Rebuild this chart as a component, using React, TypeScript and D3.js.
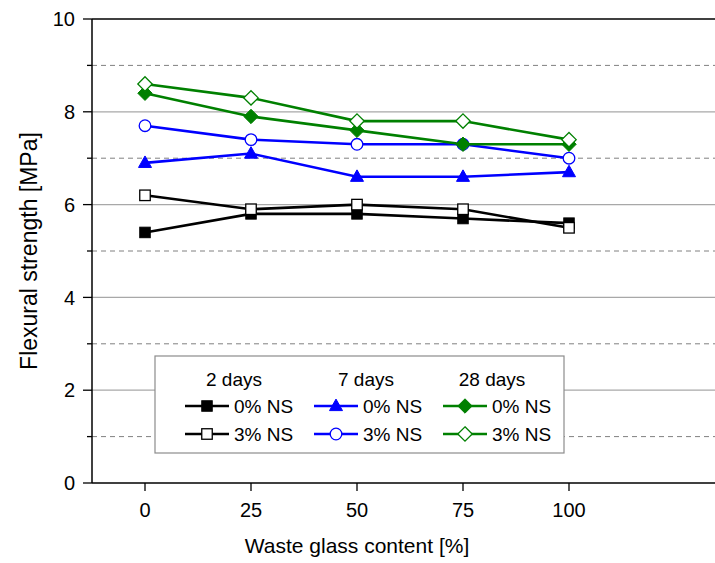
import React from "react";
import * as d3 from "d3";

// Waste glass content (%) on the x axis
const glassContent = [0, 25, 50, 75, 100];

// Flexural strength (MPa) per curing age and nano-silica dosage
const days2_ns0 = [5.4, 5.8, 5.8, 5.7, 5.6];
const days2_ns3 = [6.2, 5.9, 6.0, 5.9, 5.5];
const days7_ns0 = [6.9, 7.1, 6.6, 6.6, 6.7];
const days7_ns3 = [7.7, 7.4, 7.3, 7.3, 7.0];
const days28_ns0 = [8.4, 7.9, 7.6, 7.3, 7.3];
const days28_ns3 = [8.6, 8.3, 7.8, 7.8, 7.4];

const yMajorTicks = [0, 2, 4, 6, 8, 10];
const yMinorTicks = [1, 3, 5, 7, 9];
const xTicks = [0, 25, 50, 75, 100];

const ageGroups = ["2 days", "7 days", "28 days"];
const dosageLabels = ["0% NS", "3% NS"];

type Marker = "square" | "triangle" | "circle" | "diamond";

const series = [
  { values: days2_ns0, color: "#000000", marker: "square" as Marker, filled: true, group: 0, row: 0 },
  { values: days2_ns3, color: "#000000", marker: "square" as Marker, filled: false, group: 0, row: 1 },
  { values: days7_ns0, color: "#0000ff", marker: "triangle" as Marker, filled: true, group: 1, row: 0 },
  { values: days7_ns3, color: "#0000ff", marker: "circle" as Marker, filled: false, group: 1, row: 1 },
  { values: days28_ns0, color: "#008000", marker: "diamond" as Marker, filled: true, group: 2, row: 0 },
  { values: days28_ns3, color: "#008000", marker: "diamond" as Marker, filled: false, group: 2, row: 1 },
];

const W = 715;
const H = 563;
const left = 92;
const top = 19;
const bottom = 483;
const FONT = "'Liberation Sans', Arial, sans-serif";

const x = d3.scaleLinear().domain([-12.5, 137.5]).range([left, left + 150 * 4.24]);
const y = d3.scaleLinear().domain([0, 10]).range([bottom, top]);

function MarkerShape({ kind, cx, cy, color, filled }: { kind: Marker; cx: number; cy: number; color: string; filled: boolean }) {
  const fill = filled ? color : "#ffffff";
  const sw = filled ? 1 : 1.3;
  if (kind === "square") {
    const s = 10.5;
    return <rect x={cx - s / 2} y={cy - s / 2} width={s} height={s} fill={fill} stroke={color} strokeWidth={sw} />;
  }
  if (kind === "circle") {
    return <circle cx={cx} cy={cy} r={5.8} fill={fill} stroke={color} strokeWidth={sw} />;
  }
  if (kind === "triangle") {
    const h = 11.5;
    const w = 13;
    const pts = `${cx},${cy - h * 0.6} ${cx + w / 2},${cy + h * 0.4} ${cx - w / 2},${cy + h * 0.4}`;
    return <polygon points={pts} fill={fill} stroke={color} strokeWidth={sw} />;
  }
  const r = 7.2;
  const pts = `${cx},${cy - r} ${cx + r},${cy} ${cx},${cy + r} ${cx - r},${cy}`;
  return <polygon points={pts} fill={fill} stroke={color} strokeWidth={sw} />;
}

export default function App() {
  const line = d3
    .line<number>()
    .x((_, i) => x(glassContent[i]))
    .y((d) => y(d));

  // Legend layout
  const legBox = { x: 155, y: 356, w: 409, h: 97 };
  const groupLineX = [185, 314, 443];
  const headerX = [234, 366, 492];
  const rowY = [406, 434];

  return (
    <svg
      width={W}
      height={H}
      style={{ position: "absolute", left: 0, top: 0, background: "#ffffff" }}
      fontFamily={FONT}
    >
      {/* grid lines */}
      {[2, 4, 6, 8].map((v) => (
        <line key={"g" + v} x1={left} x2={W} y1={y(v)} y2={y(v)} stroke="#a8a8a8" strokeWidth={1.3} />
      ))}
      {yMinorTicks.map((v) => (
        <line key={"d" + v} x1={left} x2={W} y1={y(v)} y2={y(v)} stroke="#808080" strokeWidth={1} strokeDasharray="5,4" />
      ))}

      {/* frame */}
      <line x1={left} x2={W} y1={top} y2={top} stroke="#000" strokeWidth={1.5} />
      <line x1={left} x2={W} y1={bottom} y2={bottom} stroke="#000" strokeWidth={1.5} />
      <line x1={left} x2={left} y1={top} y2={bottom} stroke="#000" strokeWidth={1.5} />

      {/* y ticks */}
      {yMajorTicks.map((v) => (
        <g key={"yt" + v}>
          <line x1={left - 9} x2={left} y1={y(v)} y2={y(v)} stroke="#000" strokeWidth={1.3} />
          <text x={left - 17} y={y(v)} dy="0.36em" textAnchor="end" fontSize={20} fill="#000">
            {v}
          </text>
        </g>
      ))}
      {yMinorTicks.map((v) => (
        <line key={"ym" + v} x1={left - 5} x2={left} y1={y(v)} y2={y(v)} stroke="#000" strokeWidth={1.3} />
      ))}

      {/* x ticks */}
      {xTicks.map((v) => (
        <g key={"xt" + v}>
          <line x1={x(v)} x2={x(v)} y1={bottom} y2={bottom + 8} stroke="#000" strokeWidth={1.3} />
          <text x={x(v)} y={517} textAnchor="middle" fontSize={20} fill="#000">
            {v}
          </text>
        </g>
      ))}

      {/* axis titles */}
      <text x={x(50)} y={553} textAnchor="middle" fontSize={21} fill="#000">
        Waste glass content [%]
      </text>
      <text
        transform={`translate(37, ${(top + bottom) / 2}) rotate(-90)`}
        textAnchor="middle"
        fontSize={23}
        fill="#000"
      >
        Flexural strength [MPa]
      </text>

      {/* series */}
      {series.map((s, si) => (
        <path key={"l" + si} d={line(s.values) || ""} fill="none" stroke={s.color} strokeWidth={2.6} />
      ))}
      {series.map((s, si) =>
        s.values.map((v, i) => (
          <MarkerShape key={`m${si}-${i}`} kind={s.marker} cx={x(glassContent[i])} cy={y(v)} color={s.color} filled={s.filled} />
        ))
      )}

      {/* legend */}
      <rect x={legBox.x} y={legBox.y} width={legBox.w} height={legBox.h} fill="#ffffff" stroke="#8c8c8c" strokeWidth={1.2} />
      {ageGroups.map((g, gi) => (
        <text key={"h" + gi} x={headerX[gi]} y={386} textAnchor="middle" fontSize={19} fill="#000">
          {g}
        </text>
      ))}
      {series.map((s, si) => {
        const lx = groupLineX[s.group];
        const cy = rowY[s.row];
        return (
          <g key={"lg" + si}>
            <line x1={lx} x2={lx + 44} y1={cy} y2={cy} stroke={s.color} strokeWidth={2.6} />
            <MarkerShape kind={s.marker} cx={lx + 22} cy={cy} color={s.color} filled={s.filled} />
            <text x={lx + 49} y={cy} dy="0.36em" fontSize={19} fill="#000">
              {dosageLabels[s.row]}
            </text>
          </g>
        );
      })}
    </svg>
  );
}
